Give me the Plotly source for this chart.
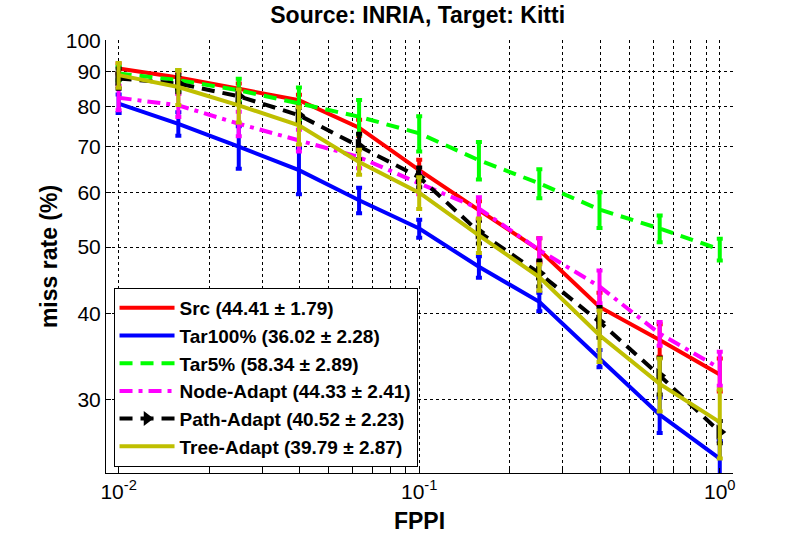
import plotly.graph_objects as go

# FPPI sample points (logspace -2..0, 11 points)
fppi = [0.01, 0.0158, 0.0251, 0.0398, 0.0631, 0.1, 0.158, 0.251, 0.398, 0.631, 1.0]

src = [91.0, 88.3, 85.0, 81.8, 74.6, 64.7, 56.6, 49.5, 40.9, 36.6, 32.6]
src_err = [1.5, 1.5, 1.5, 1.5, 2.0, 2.3, 1.7, 2.0, 2.0, 2.0, 1.8]

tar100 = [80.9, 75.6, 70.0, 64.7, 58.5, 53.2, 46.8, 41.6, 34.4, 28.5, 24.6]
tar100_err = [2.5, 3.0, 5.0, 5.0, 2.5, 1.6, 1.7, 1.3, 1.0, 1.7, 1.5]

tar5 = [89.5, 87.5, 84.6, 80.9, 77.4, 73.2, 66.9, 61.9, 56.7, 53.2, 49.6]
tar5_err = [2.0, 3.0, 3.3, 4.5, 4.5, 4.3, 4.2, 3.0, 3.4, 2.4, 1.8]

node = [82.5, 80.4, 75.6, 71.5, 67.6, 61.9, 56.9, 49.5, 43.8, 37.4, 33.3]
node_err = [3.4, 3.1, 3.1, 2.6, 2.5, 2.2, 2.2, 2.0, 2.4, 1.5, 1.9]

path = [88.0, 86.5, 82.9, 77.8, 70.1, 63.2, 52.6, 45.8, 38.9, 32.5, 26.9]
path_err = [3.0, 2.5, 2.0, 2.0, 3.0, 2.1, 2.0, 2.0, 2.0, 2.0, 1.0]

tree = [89.0, 85.5, 80.4, 75.2, 66.5, 60.0, 52.0, 45.2, 37.2, 31.6, 27.8]
tree_err = [3.7, 5.0, 4.5, 4.7, 2.8, 3.2, 3.0, 2.0, 3.2, 2.8, 3.2]

names = ['Src (44.41 ± 1.79)', 'Tar100% (36.02 ± 2.28)', 'Tar5% (58.34 ± 2.89)',
         'Node-Adapt (44.33 ± 2.41)', 'Path-Adapt (40.52 ± 2.23)', 'Tree-Adapt (39.79 ± 2.87)']

x_tickvals = [m * 0.01 for m in range(1, 10)] + [m * 0.1 for m in range(1, 10)] + [1.0]
x_ticktext = ['10<sup>-2</sup>'] + [''] * 8 + ['10<sup>-1</sup>'] + [''] * 8 + ['10<sup>0</sup>']
y_tickvals = [30, 40, 50, 60, 70, 80, 90, 100]

FONT = 'Liberation Sans, Arial, sans-serif'

series = [
    (src, src_err, 'rgb(255,0,0)', 'solid', None),
    (tar100, tar100_err, 'rgb(0,0,255)', 'solid', None),
    (tar5, tar5_err, 'rgb(0,255,0)', '13px,8px', None),
    (node, node_err, 'rgb(255,0,255)', '13px,6px,4px,6px', None),
    (path, path_err, 'rgb(0,0,0)', '13px,8px', 'triangle-right'),
    (tree, tree_err, 'rgb(191,191,0)', 'solid', None),
]

fig = go.Figure()
for (vals, err, color, dash, marker), name in zip(series, names):
    fig.add_trace(go.Scatter(
        x = fppi,
        y = vals,
        name = f'<b>{name}</b>',
        mode = 'lines+markers' if marker else 'lines',
        line = dict(color = color, width = 4, dash = dash),
        marker = dict(symbol = marker or 'circle', size = 13, color = color),
        error_y = dict(type = 'data', array = err, visible = True,
                       color = color, thickness = 4, width = 3),
    ))

fig.update_layout(
    width = 811,
    height = 540,
    paper_bgcolor = 'white',
    plot_bgcolor = 'white',
    margin = dict(l = 106, r = 78, t = 40, b = 67),
    font = dict(family = FONT, size = 21, color = 'black'),
    title = dict(text = '<b>Source: INRIA, Target: Kitti</b>', x = 0.515, xanchor = 'center',
                 y = 0.972, yanchor = 'middle', font = dict(size = 23)),
    xaxis = dict(
        type = 'log',
        range = [-2.042, 0.044],
        tickvals = x_tickvals,
        ticktext = x_ticktext,
        ticks = 'inside',
        ticklen = 5,
        tickcolor = 'black',
        showline = True,
        linecolor = 'black',
        linewidth = 1,
        showgrid = True,
        gridcolor = 'black',
        gridwidth = 1,
        griddash = '3px,3px',
        zeroline = False,
        automargin = False,
        title = dict(text = '<b>FPPI</b>', font = dict(size = 23), standoff = 10),
    ),
    yaxis = dict(
        type = 'log',
        range = [1.3699, 2.0005],
        tickvals = y_tickvals,
        ticks = 'inside',
        ticklen = 5,
        tickcolor = 'black',
        showline = True,
        linecolor = 'black',
        linewidth = 1,
        showgrid = True,
        gridcolor = 'black',
        gridwidth = 1,
        griddash = '3px,3px',
        zeroline = False,
        automargin = False,
        title = dict(text = '<b>miss rate (%)</b>', font = dict(size = 23), standoff = 1),
    ),
    legend = dict(
        x = 0.012,
        y = 0.014,
        xanchor = 'left',
        yanchor = 'bottom',
        bgcolor = 'white',
        bordercolor = 'black',
        borderwidth = 1,
        font = dict(size = 19, family = FONT),
        itemwidth = 55,
        tracegroupgap = 0,
    ),
    showlegend = True,
)

# the page body has a default 8px margin; remove it so the figure sits at 0,0
fig.write_html('out.html', config = {'displayModeBar': False},
               post_script = "document.body.style.margin = '0';")
